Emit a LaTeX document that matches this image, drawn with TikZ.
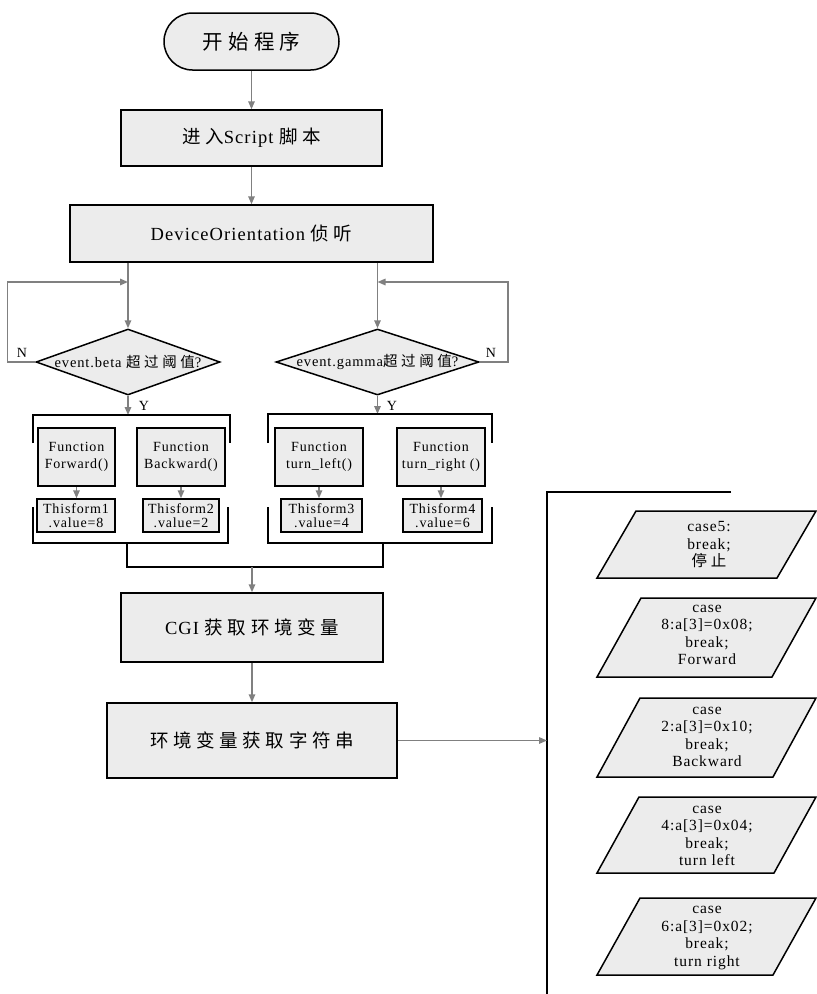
\documentclass[tikz,border=0pt]{standalone}
\usepackage{fontspec}
\setmainfont[LetterSpace=6]{Liberation Serif}
\newfontfamily\cjk[LetterSpace=25]{Noto Sans CJK SC}
\newcommand\ZH[1]{{\cjk #1}}
\usetikzlibrary{shapes.geometric,shapes.misc,arrows.meta}
\begin{document}
\begin{tikzpicture}[x=1pt,y=-1pt,
  boxbase/.style={draw=black,line width=1.5pt,fill=gray!15,inner sep=0pt,align=center},
  box/.style={boxbase,rectangle},
  term/.style={boxbase,rounded rectangle,minimum width=175pt,minimum height=57pt},
  dia/.style={boxbase,diamond,minimum height=66pt},
  fbox/.style={box,minimum height=58pt,font=\fontsize{14}{17}\selectfont},
  tbox/.style={box,minimum height=33pt,font=\fontsize{14}{14.5}\selectfont},
  garrow/.style={draw=black!50,line width=1.5pt,-{Triangle[length=8pt,width=6.5pt]}},
  bk/.style={draw=black,line width=1.5pt},
  para/.style={draw=black,line width=1.5pt,fill=gray!15},
  ptext/.style={align=center,inner sep=0pt,font=\fontsize{15.5}{17.5}\selectfont},
  lab/.style={inner sep=0pt,font=\fontsize{14}{16}\selectfont},
  big/.style={font=\fontsize{18.5}{22}\selectfont}
]
\useasboundingbox (0,0) rectangle (817,994);

% main column
\node[term] (start) at (251.5,41.5) {\fontsize{20.5}{24}\selectfont\ZH{开始程序}};
\node[box,big,minimum width=261pt,minimum height=56pt] (script) at (251.5,138)
  {\ZH{进入}Script \ZH{脚本}};
\node[box,big,minimum width=363pt,minimum height=57pt] (dev) at (251.5,233.5)
  {DeviceOrientation \ZH{侦听}};
\draw[garrow] (start.south) -- (script.north);
\draw[garrow] (script.south) -- (dev.north);

% decisions
\node[dia,minimum width=184pt] (d1) at (128,362)
  {\makebox[0pt]{\fontsize{14.5}{16}\selectfont event.beta \ZH{超过阈值}?}};
\node[dia,minimum width=203pt] (d2) at (377.5,362)
  {\makebox[0pt]{\fontsize{14.5}{16}\selectfont event.gamma\ZH{超过阈值}?}};
\coordinate (jl) at (128,282);
\coordinate (jr) at (377.5,282);
\draw[garrow] (dev.south -| d1.north) -- (d1.north);
\draw[garrow] (dev.south -| d2.north) -- (d2.north);
\draw[garrow] (d1.west) -- ++(-28,0) |- (jl);
\draw[garrow] (d2.east) -- ++(28,0) |- (jr);
\node[lab] (n1) at (22,353) {N};
\node[lab] (n2) at (491,353) {N};

\coordinate (b1t) at (128,415);
\coordinate (b2t) at (377.5,414);
\draw[garrow] (d1.south) -- (b1t);
\draw[garrow] (d2.south) -- (b2t);
\node[lab] (y1) at (144,406) {Y};
\node[lab] (y2) at (392,406) {Y};

% brackets
\draw[bk] (33,443) |- (230,415) -- (230,443);
\draw[bk] (33,507) |- (228,543) -- (228,507);
\draw[bk] (268,443) |- (492,414) -- (492,443);
\draw[bk] (268,507) |- (492,543) -- (492,507);

% function boxes
\node[fbox,minimum width=77pt] (f1) at (76.5,457) {Function\\Forward()};
\node[fbox,minimum width=88pt] (f2) at (181,457) {Function\\Backward()};
\node[fbox,minimum width=88pt] (f3) at (319,457) {Function\\turn\_left()};
\node[fbox,minimum width=88pt] (f4) at (441,457) {Function\\turn\_right ()};

\node[tbox,minimum width=78pt] (t1) at (76,515.5) {Thisform1\\.value=8};
\node[tbox,minimum width=76pt] (t2) at (181,515.5) {Thisform2\\.value=2};
\node[tbox,minimum width=81pt] (t3) at (321.5,515.5) {Thisform3\\.value=4};
\node[tbox,minimum width=79pt] (t4) at (442.5,515.5) {Thisform4\\.value=6};

\draw[garrow] (f1.south) -- (f1.south |- t1.north);
\draw[garrow] (f2.south) -- (f2.south |- t2.north);
\draw[garrow] (f3.south) -- (f3.south |- t3.north);
\draw[garrow] (f4.south) -- (f4.south |- t4.north);

% merge
\coordinate (b1b) at (127,543);
\coordinate (b2b) at (383,543);
\coordinate (jb) at (252,567);
\draw[bk,line width=1.2pt] (b1b) |- (jb) -| (b2b);

\node[box,big,minimum width=262pt,minimum height=69pt] (cgi) at (252,627.5)
  {CGI \ZH{获取环境变量}};
\node[box,big,minimum width=290pt,minimum height=75pt] (str) at (252,740.5)
  {\ZH{环境变量获取字符串}};
\draw[garrow] (jb) -- (cgi.north);
\draw[garrow] (cgi.south) -- (str.north);

% big bracket
\coordinate (bb) at (547,740.5);
\draw[bk] (731,492) -- (547,492) -- (547,994);
\draw[garrow] (str.east) -- (bb);

% parallelograms
\foreach \t/\b/\s in {511/578/39, 598/677/44, 698/777/43, 797/873/42, 898/975/43}{
  \draw[para] (597,\b) -- (597+\s,\t) -- (816,\t) -- (816-\s,\b) -- cycle;
}
\node[ptext] (p1) at (709,545) {case5:\\break;\\\ZH{停止}};
\node[ptext] (p2) at (707,635) {case\\8:a[3]=0x08;\\break;\\Forward};
\node[ptext] (p3) at (707,737) {case\\2:a[3]=0x10;\\break;\\Backward};
\node[ptext] (p4) at (707,836) {case\\4:a[3]=0x04;\\break;\\turn left};
\node[ptext] (p5) at (707,938) {case\\6:a[3]=0x02;\\break;\\turn right};
\end{tikzpicture}
\end{document}
